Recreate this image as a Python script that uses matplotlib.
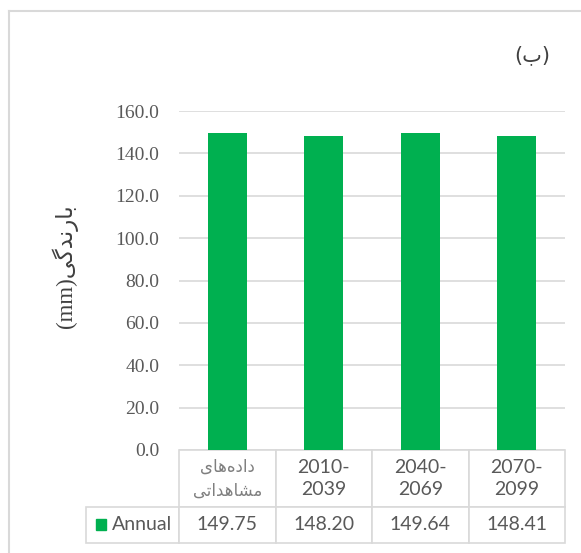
import numpy as np
import matplotlib.pyplot as plt
from matplotlib.patches import Rectangle
from matplotlib.lines import Line2D

# data
# Persian strings are written in visual order with presentation forms (no shaping in matplotlib)
obs_label = '\uFBFC\uFE8E\uFEEB\uFEE9\uFEA9\uFE8D\uFEA9\n\uFBFD\uFE97\uFE8D\uFEAA\uFEEB\uFE8E\uFEB8\uFEE3'
categories = [obs_label, '2010-\n2039', '2040-\n2069', '2070-\n2099']
annual = [149.75, 148.20, 149.64, 148.41]
series_name = 'Annual'
y_ticks = [0, 20, 40, 60, 80, 100, 120, 140, 160]
y_label = '(mm)\uFBFD\uFB94\uFEAA\uFEE7\uFEAD\uFE8E\uFE91'
panel_tag = '(\uFE8F)'

green = '#00B050'
grid = '#D9D9D9'
txt = '#595959'

fig = plt.figure(figsize=(5.81, 5.53), dpi=100)
ax = fig.add_axes([179 / 581, 1 - 450 / 553, 386 / 581, 339 / 553])

x = np.arange(len(annual))
ax.bar(x, annual, width=0.4, color=green, zorder=3)
ax.set_xlim(-0.5, len(annual) - 0.5)
ax.set_ylim(0, 160)
ax.set_yticks(y_ticks)
ax.set_yticklabels([f'{v:.1f}' for v in y_ticks], fontsize=14,
                   family=['Liberation Serif'], color=txt)
ax.tick_params(axis='y', length=0, pad=14)
ax.set_xticks([])
ax.grid(axis='y', color=grid, lw=1.2, zorder=0)
for s in ax.spines.values():
    s.set_visible(False)

ax.set_ylabel(y_label, family=['Liberation Serif', 'DejaVu Sans'], fontsize=16.5,
              color='#404040')
ax.yaxis.set_label_coords(-101 / 386, 184 / 339)

# data table under the plot
cell_text = [[''] + categories, [''] + [f'{v:.2f}' for v in annual]]
tbl = ax.table(cellText=cell_text, cellLoc='center',
               bbox=[-93 / 386, -93 / 339, 479 / 386, 93 / 339])
tbl.auto_set_font_size(False)
for (r, c), cell in tbl.get_celld().items():
    cell.set_edgecolor(grid)
    cell.set_linewidth(1.2)
    cell.set_width(93 if c == 0 else 96.5)
    cell.set_height(57 if r == 0 else 36)
    t = cell.get_text()
    t.set_color(txt)
    t.set_fontsize(14)
    t.set_family(['Lato'])
    if r == 0:
        t.set_linespacing(1.3)
    if r == 0 and c == 0:
        cell.visible_edges = ''
    if r == 0 and c == 1:
        t.set_family(['DejaVu Sans'])
        t.set_fontsize(12)
        t.set_color('#7f7f7f')
        t.set_linespacing(1.4)

# legend key inside the row-label cell
ax.text(-67 / 386, -75 / 339, series_name, transform=ax.transAxes, fontsize=14,
        family=['Lato'], color=txt, va='center', ha='left')
ax.add_patch(Rectangle((-83 / 386, -80 / 339), 10 / 386, 11 / 339,
                       transform=ax.transAxes, color=green, clip_on=False))

fig.text(532 / 581, 1 - 55 / 553, panel_tag, family=['DejaVu Sans'], fontsize=15,
         color='#404040', ha='center', va='center')

# chart area border (cropped on right and bottom)
fig.add_artist(Line2D([9 / 581, 9 / 581], [0, 1 - 11 / 553], color=grid, lw=1.5))
fig.add_artist(Line2D([9 / 581, 1], [1 - 11 / 553, 1 - 11 / 553], color=grid, lw=1.5))

fig.savefig('out.png', dpi=100)
plt.close(fig)
